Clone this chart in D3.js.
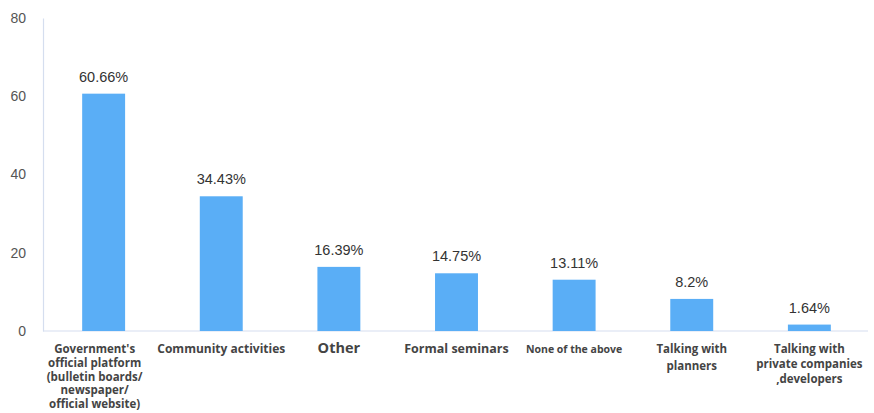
<!DOCTYPE html>
<html>
<head>
<meta charset="utf-8">
<script src="https://cdn.jsdelivr.net/npm/d3@7"></script>
<style>
  html, body { margin: 0; padding: 0; background: #fff; }
  svg { display: block; }
</style>
</head>
<body>
<svg id="chart" width="874" height="413"></svg>
<script>
// Share of respondents by information channel (%)
const categories = [
  "Government's official platform",
  "Community activities",
  "Other",
  "Formal seminars",
  "None of the above",
  "Talking with planners",
  "Talking with private companies ,developers"
];
const values = [60.66, 34.43, 16.39, 14.75, 13.11, 8.2, 1.64];
const valueLabels = ["60.66%", "34.43%", "16.39%", "14.75%", "13.11%", "8.2%", "1.64%"];
const yTicks = [0, 20, 40, 60, 80];
// Wrapped lines for each category label
const labelLines = [
  ["Government's", "official platform", "(bulletin boards/", "newspaper/", "official website)"],
  ["Community activities"],
  ["Other"],
  ["Formal seminars"],
  ["None of the above"],
  ["Talking with", "planners"],
  ["Talking with", "private companies", ",developers"]
];
const labelSizes = [11.5, 12, 14.5, 12.5, 10.5, 11.5, 11.5];

const svg = d3.select("#chart");
const margin = { left: 43, right: 4, top: 18, bottom: 82 };
const W = 874, H = 413;

const x = d3.scaleBand()
  .domain(categories)
  .range([margin.left, W - margin.right])
  .paddingInner(0.635)
  .paddingOuter(0.333);

const y = d3.scaleLinear()
  .domain([0, 80])
  .range([H - margin.bottom, margin.top]);

const axisColor = "#d5deef";

// y axis
const yAxis = svg.append("g")
  .attr("transform", `translate(${margin.left},0)`)
  .call(d3.axisLeft(y).tickValues(yTicks).tickSize(0).tickPadding(17));
yAxis.select(".domain").attr("stroke", axisColor).attr("stroke-width", 1.2);
yAxis.selectAll("text")
  .attr("fill", "#555")
  .style("font-family", "'Liberation Sans', Arial, sans-serif")
  .style("font-size", "14px");

// x axis baseline
const xAxis = svg.append("g")
  .attr("transform", `translate(0,${y(0)})`)
  .call(d3.axisBottom(x).tickSize(0).tickFormat(""));
xAxis.select(".domain")
  .attr("stroke", axisColor).attr("stroke-width", 1.2)
  .attr("d", `M${margin.left},0H${W - 6}`);

// bars
svg.append("g").selectAll("rect")
  .data(values)
  .join("rect")
  .attr("x", (d, i) => x(categories[i]))
  .attr("width", x.bandwidth())
  .attr("y", d => y(d))
  .attr("height", d => y(0) - y(d))
  .attr("fill", "#5aaef6");

// value labels
svg.append("g").selectAll("text")
  .data(values)
  .join("text")
  .attr("x", (d, i) => x(categories[i]) + x.bandwidth() / 2)
  .attr("y", d => y(d) - 12)
  .attr("text-anchor", "middle")
  .attr("fill", "#333")
  .style("font-family", "'Liberation Sans', Arial, sans-serif")
  .style("font-size", "14.5px")
  .text((d, i) => valueLabels[i]);

// category labels
const catG = svg.append("g")
  .style("font-family", "'Open Sans', 'Noto Sans', sans-serif")
  .style("font-weight", "700")
  .attr("fill", "#444");

categories.forEach((c, i) => {
  const cx = x(c) + x.bandwidth() / 2;
  const lh = i === 5 ? 17 : (i === 0 ? 13.8 : 15);
  const t = catG.append("text")
    .attr("x", cx)
    .attr("y", y(0) + 22)
    .attr("text-anchor", "middle")
    .style("font-size", labelSizes[i] + "px");
  labelLines[i].forEach((line, j) => {
    t.append("tspan")
      .attr("x", cx - (i === 0 ? 9 : 0))
      .attr("dy", j === 0 ? 0 : lh)
      .text(line);
  });
});
</script>
</body>
</html>
